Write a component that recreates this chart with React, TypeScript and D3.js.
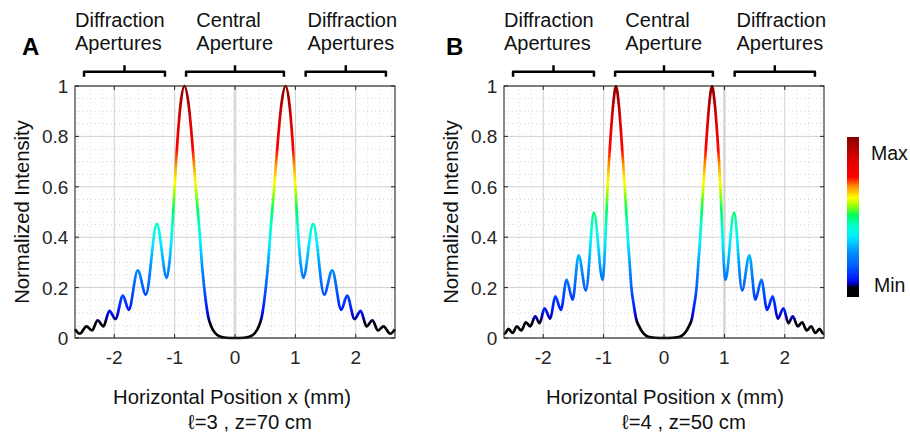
import * as d3 from 'd3';

// tick values / labels
const xTicks = [-2, -1, 0, 1, 2];
const xTickLabels = ['-2', '-1', '0', '1', '2'];
const yTicks = [0, 0.2, 0.4, 0.6, 0.8, 1];
const yTickLabels = ['0', '0.2', '0.4', '0.6', '0.8', '1'];

// panel A : l=3, z=70 cm  (peaks and troughs + main lobe flanks)
const aX = [
  -2.65, -2.57, -2.46, -2.37, -2.275, -2.18, -2.08, -1.98, -1.857, -1.76, -1.61, -1.477, -1.295, -1.13,
  -1.09, -1.05, -1.0, -0.948, -0.9, -0.838, -0.77, -0.716, -0.65, -0.58, -0.55, -0.51, -0.48, -0.44,
  -0.4, -0.33, -0.25, -0.15, 0,
  0.15, 0.25, 0.33, 0.4, 0.44, 0.48, 0.51, 0.55, 0.58, 0.65, 0.716, 0.77, 0.838, 0.9, 0.948, 1.0,
  1.05, 1.09, 1.13, 1.295, 1.477, 1.61, 1.76, 1.857, 1.98, 2.08, 2.18, 2.275, 2.37, 2.46, 2.57, 2.65,
];
const aY = [
  0.035, 0.017, 0.046, 0.03, 0.07, 0.046, 0.108, 0.075, 0.168, 0.112, 0.268, 0.172, 0.453, 0.238,
  0.29, 0.4, 0.6, 0.8, 0.93, 1.0, 0.93, 0.8, 0.6, 0.4, 0.3, 0.2, 0.14, 0.08,
  0.05, 0.02, 0.006, 0.001, 0,
  0.001, 0.006, 0.02, 0.05, 0.08, 0.14, 0.2, 0.3, 0.4, 0.6, 0.8, 0.93, 1.0, 0.93, 0.8, 0.6,
  0.4, 0.29, 0.238, 0.453, 0.172, 0.268, 0.112, 0.168, 0.075, 0.108, 0.046, 0.07, 0.03, 0.046, 0.017, 0.035,
];

// panel B : l=4, z=50 cm
const bX = [
  -2.65, -2.64, -2.575, -2.508, -2.436, -2.365, -2.287, -2.215, -2.133, -2.061, -1.978, -1.884, -1.801,
  -1.707, -1.613, -1.514, -1.414, -1.293, -1.16, -1.017, -0.99, -0.97, -0.934, -0.884, -0.84, -0.796,
  -0.75, -0.707, -0.65, -0.6, -0.57, -0.54, -0.5, -0.46, -0.41, -0.34, -0.26, -0.15, 0,
  0.15, 0.26, 0.34, 0.41, 0.46, 0.5, 0.54, 0.57, 0.6, 0.65, 0.707, 0.75, 0.796, 0.84, 0.884, 0.934,
  0.97, 0.99, 1.017, 1.16, 1.293, 1.414, 1.514, 1.613, 1.707, 1.801, 1.884, 1.978, 2.061, 2.133,
  2.215, 2.287, 2.365, 2.436, 2.508, 2.575, 2.64, 2.65,
];
const bY = [
  0.018, 0.017, 0.036, 0.02, 0.046, 0.03, 0.062, 0.046, 0.086, 0.059, 0.118, 0.077, 0.165,
  0.112, 0.231, 0.152, 0.328, 0.189, 0.498, 0.231, 0.3, 0.4, 0.6, 0.8, 0.93, 1.0,
  0.93, 0.8, 0.6, 0.4, 0.3, 0.2, 0.13, 0.075, 0.045, 0.018, 0.005, 0.001, 0,
  0.001, 0.005, 0.018, 0.045, 0.075, 0.13, 0.2, 0.3, 0.4, 0.6, 0.8, 0.93, 1.0, 0.93, 0.8, 0.6,
  0.4, 0.3, 0.231, 0.498, 0.189, 0.328, 0.152, 0.231, 0.112, 0.165, 0.077, 0.118, 0.059, 0.086,
  0.046, 0.062, 0.03, 0.046, 0.02, 0.036, 0.017, 0.018,
];

// bracket annotations (x in mm)
const bracketSpans = [[-2.5, -1.16], [-0.81, 0.81], [1.17, 2.5]];
const bracketLabels = [['Diffraction', 'Apertures'], ['Central', 'Aperture'], ['Diffraction', 'Apertures']];
const bracketLabelX = [-2.65, -0.64, 1.2];

// black-jet colormap
const cmap: [number, string][] = [
  [0.0, '#000000'],
  [0.06, '#000008'],
  [0.085, '#0000c8'],
  [0.12, '#0020ff'],
  [0.2, '#0060ff'],
  [0.28, '#0090ff'],
  [0.38, '#00eeff'],
  [0.44, '#00ffd0'],
  [0.51, '#00ff60'],
  [0.575, '#a0ff00'],
  [0.62, '#ffff00'],
  [0.69, '#ff9000'],
  [0.75, '#ff0000'],
  [0.86, '#dd0000'],
  [1.0, '#8b0000'],
];

const FONT = "'Liberation Sans', Arial, Helvetica, sans-serif";

function Panel({ id, left, right, top, bottom, xs, ys, letter, letterX, caption, capX, labX, wideX }: any) {
  const x = d3.scaleLinear().domain([-2.65, 2.65]).range([left, right]);
  const y = d3.scaleLinear().domain([0, 1]).range([bottom, top]);
  const pts = xs.map((v: number, i: number) => [v, ys[i]] as [number, number]);
  const line = d3.line<[number, number]>().x(d => x(d[0])).y(d => y(d[1])).curve(d3.curveMonotoneX);

  const minorX = d3.range(-13, 14).map(i => i * 0.2).filter(v => Math.abs(v - Math.round(v)) > 1e-6);
  const minorY = d3.range(1, 20).map(i => i * 0.05).filter(v => Math.abs(v / 0.2 - Math.round(v / 0.2)) > 1e-6);
  const tl = 4;
  const ax = '#262626';

  return (
    <g>
      <defs>
        <linearGradient id={id} gradientUnits="userSpaceOnUse" x1={0} y1={y(0)} x2={0} y2={y(1)}>
          {cmap.map(([o, c]) => <stop key={o} offset={o} stopColor={c} />)}
        </linearGradient>
      </defs>

      {/* minor grid */}
      {minorX.map(v => (
        <line key={'mx' + v} x1={x(v)} x2={x(v)} y1={top} y2={bottom} stroke="#c4c4c4" strokeWidth={0.7} strokeDasharray="1 3" />
      ))}
      {minorY.map(v => (
        <line key={'my' + v} x1={left} x2={right} y1={y(v)} y2={y(v)} stroke="#c4c4c4" strokeWidth={0.7} strokeDasharray="1 3" />
      ))}
      {/* major grid */}
      <line x1={x(wideX)} x2={x(wideX)} y1={top} y2={bottom} stroke="#e2e2e2" strokeWidth={3} />
      {xTicks.map(v => (
        <line key={'gx' + v} x1={x(v)} x2={x(v)} y1={top} y2={bottom} stroke="#d0d0d0" strokeWidth={1} />
      ))}
      {yTicks.map(v => (
        <line key={'gy' + v} x1={left} x2={right} y1={y(v)} y2={y(v)} stroke="#d0d0d0" strokeWidth={1} />
      ))}

      {/* curve */}
      <path d={line(pts) || ''} fill="none" stroke={`url(#${id})`} strokeWidth={2.7} strokeLinejoin="round" />

      {/* box + ticks */}
      <rect x={left} y={top} width={right - left} height={bottom - top} fill="none" stroke={ax} strokeWidth={1.1} />
      {xTicks.map(v => (
        <g key={'tx' + v}>
          <line x1={x(v)} x2={x(v)} y1={bottom} y2={bottom - tl} stroke={ax} />
          <line x1={x(v)} x2={x(v)} y1={top} y2={top + tl} stroke={ax} />
        </g>
      ))}
      {yTicks.map(v => (
        <g key={'ty' + v}>
          <line x1={left} x2={left + tl} y1={y(v)} y2={y(v)} stroke={ax} />
          <line x1={right} x2={right - tl} y1={y(v)} y2={y(v)} stroke={ax} />
        </g>
      ))}

      {/* tick labels */}
      <g fontFamily={FONT} fontSize={19} fill={ax}>
        {xTicks.map((v, i) => (
          <text key={'lx' + v} x={x(v)} y={bottom + 26} textAnchor="middle">{xTickLabels[i]}</text>
        ))}
        {yTicks.map((v, i) => (
          <text key={'ly' + v} x={left - 6.7} y={y(v) + 7} textAnchor="end">{yTickLabels[i]}</text>
        ))}
      </g>

      {/* axis labels */}
      <g fontFamily={FONT} fontSize={20.3} fill="#111">
        <text transform={`translate(${left - 46.5},${(top + bottom) / 2}) rotate(-90)`} textAnchor="middle">Normalized Intensity</text>
        <text x={labX} y={404} textAnchor="middle">Horizontal Position x (mm)</text>
        <text x={capX} y={429} textAnchor="middle">{caption}</text>
      </g>

      {/* panel letter */}
      <text x={letterX} y={55} fontFamily={FONT} fontWeight="bold" fontSize={24} fill="#000">{letter}</text>

      {/* brackets */}
      {bracketSpans.map(([a, b], i) => {
        const x0 = x(a), x1 = x(b), xm = (x0 + x1) / 2;
        const yb = 71.7;
        return (
          <g key={'br' + i}>
            <path d={`M${x0},${yb + 5} L${x0},${yb} L${x1},${yb} L${x1},${yb + 5} M${xm},${yb} L${xm},${yb - 6.5}`}
              fill="none" stroke="#000" strokeWidth={2.5} strokeLinejoin="round" />
            <text x={x(bracketLabelX[i])} y={26.7} fontFamily={FONT} fontSize={20} fill="#111">{bracketLabels[i][0]}</text>
            <text x={x(bracketLabelX[i])} y={50} fontFamily={FONT} fontSize={20} fill="#111">{bracketLabels[i][1]}</text>
          </g>
        );
      })}
    </g>
  );
}

export default function App() {
  return (
    <svg width={910} height={436} style={{ position: 'absolute', left: 0, top: 0, background: '#fff' }}>
      <rect width={910} height={436} fill="#fff" />
      <Panel id="gA" left={75} right={395} top={86} bottom={338} xs={aX} ys={aY}
        letter="A" letterX={22} caption="ℓ=3 , z=70 cm" capX={250} labX={232} wideX={0} />
      <Panel id="gB" left={504} right={824} top={86} bottom={338} xs={bX} ys={bY}
        letter="B" letterX={446} caption="ℓ=4 , z=50 cm" capX={684} labX={665} wideX={1} />

      {/* colorbar */}
      <defs>
        <linearGradient id="cbar" x1={0} y1={1} x2={0} y2={0}>
          {cmap.map(([o, c]) => <stop key={o} offset={o} stopColor={c} />)}
        </linearGradient>
      </defs>
      <rect x={847} y={137} width={12} height={160} fill="url(#cbar)" />
      <text x={871} y={160} fontFamily={FONT} fontSize={19.5} fill="#111">Max</text>
      <text x={874} y={291.5} fontFamily={FONT} fontSize={19.5} fill="#111">Min</text>
    </svg>
  );
}
